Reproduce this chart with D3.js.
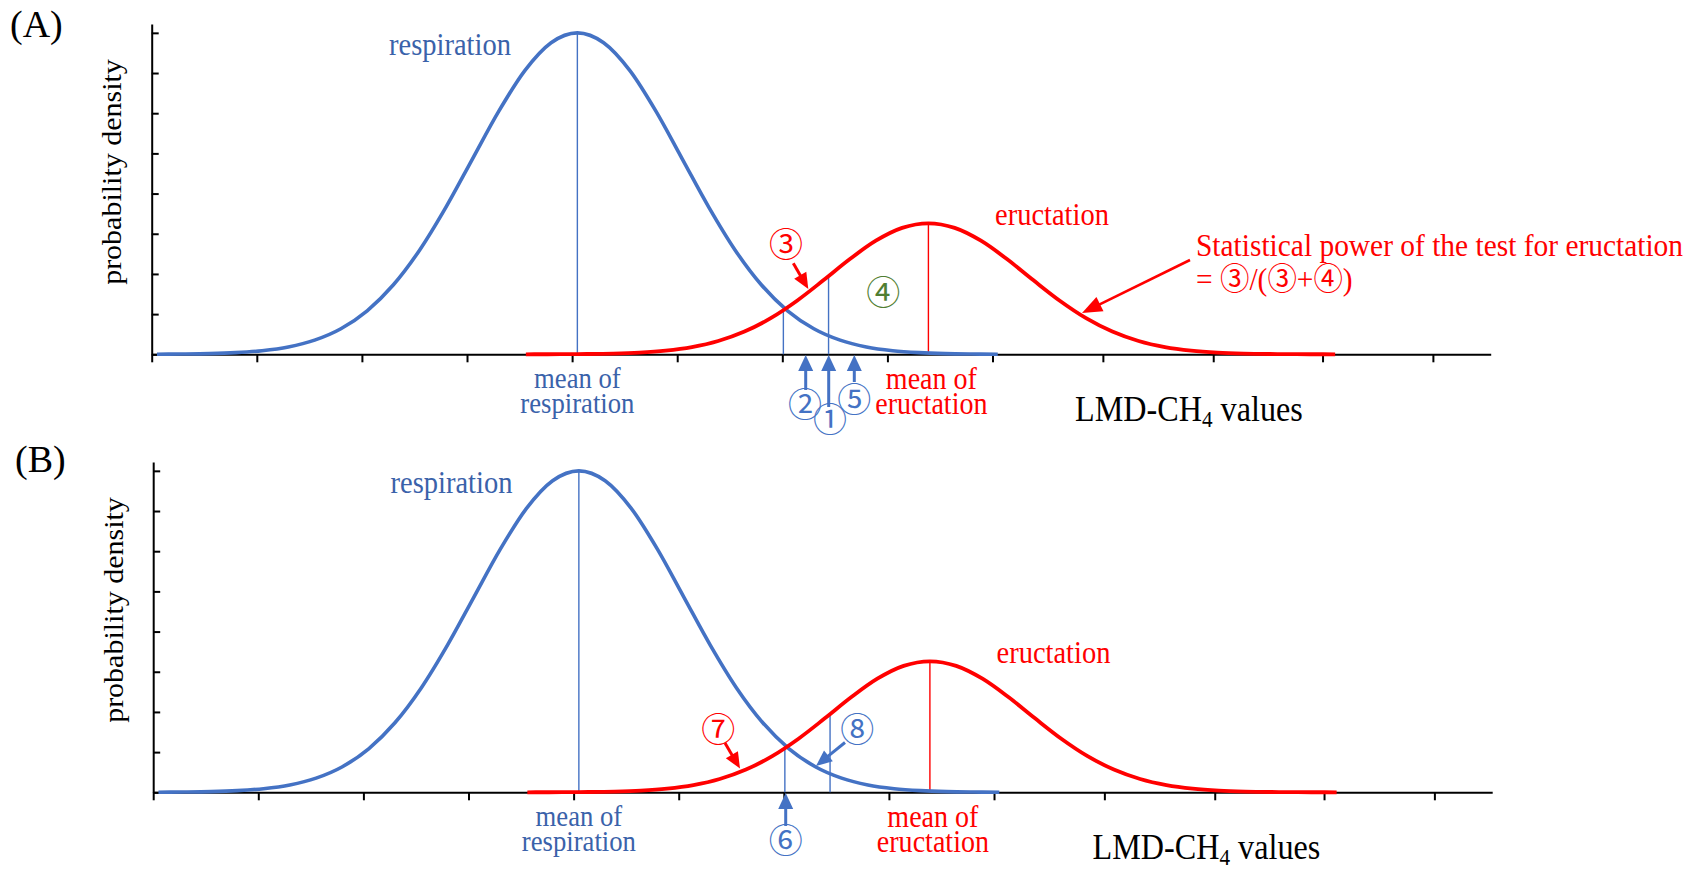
<!DOCTYPE html>
<html><head><meta charset="utf-8">
<script src="https://cdn.jsdelivr.net/npm/d3@7"></script>
<style>html,body{margin:0;padding:0;background:#fff;} svg{display:block;}</style>
</head><body><svg id="c" width="1685" height="872"></svg>
<script>
// ---- data ----
const xTicks = [0, 1, 2, 3, 4, 5, 6, 7, 8, 9.05, 10.1, 11.14, 12.19];
const yTicks = [0, 1, 2, 3, 4, 5, 6, 7, 8];
const respX = [0.05,0.30,0.55,0.80,1.05,1.30,1.55,1.80,2.05,2.30,2.55,2.80,3.05,3.30,3.55,3.80,4.05,
               4.30,4.55,4.80,5.05,5.30,5.55,5.80,6.05,6.30,6.55,6.80,7.05,7.30,7.55,7.80,8.05];
const respY = [0.003,0.007,0.017,0.041,0.089,0.182,0.352,0.636,1.083,1.730,2.597,3.663,4.852,6.039,7.060,7.754,8.0,
               7.754,7.060,6.039,4.852,3.663,2.597,1.730,1.083,0.636,0.352,0.182,0.089,0.041,0.017,0.007,0.003];
const eructX = [3.56,3.64,3.89,4.14,4.39,4.64,4.89,5.14,5.39,5.64,5.89,6.14,6.39,6.64,6.89,7.14,7.39,
                7.64,7.89,8.14,8.39,8.64,8.89,9.14,9.39,9.64,9.89,10.14,10.39,10.64,10.89,11.14,11.26];
const eructY = [0.0005,0.0010,0.0030,0.0078,0.0189,0.0431,0.0914,0.180,0.331,0.566,0.900,1.334,1.840,2.363,2.826,3.146,3.26,
                3.146,2.826,2.363,1.840,1.334,0.900,0.566,0.331,0.180,0.0914,0.0431,0.0189,0.0078,0.0030,0.0010,0.0005];
const respMean = [4.05, 8.0];       // x, peak
const eructMean = [7.39, 3.26];     // x, peak
const crossLine = [6.01, 1.14];     // x, height where curves cross
const cutLine = [6.44, 1.91];       // x, height on eructation curve

const svg = d3.select("#c");
const BLUE = "#4472C4", RED = "#FF0000", TBLUE = "#3A62AA", GREEN = "#507E32";
const SERIF = "'Liberation Serif','Times New Roman',serif";
const CJK = "'Noto Sans CJK JP','Noto Sans CJK SC',sans-serif";
const SX = 0.92;

const x = d3.scaleLinear().domain([0, 12.74]).range([151.7, 1490.7]);
const y = d3.scaleLinear().domain([0, 8.22]).range([354.3, 24]);

function text(g, px, py, lines, o) {
  const t = g.append("text")
    .attr("transform", `translate(${px},${py}) scale(${o.sx ?? SX},1)${o.rot ? " rotate(" + o.rot + ")" : ""}`)
    .attr("font-family", o.ff || SERIF)
    .attr("font-size", o.fs || 30)
    .attr("fill", o.fill || "#000")
    .attr("text-anchor", o.anchor || "start");
  if (Array.isArray(lines)) {
    lines.forEach((s, i) => t.append("tspan").attr("x", 0).attr("dy", i ? o.lh : 0).text(s));
  } else t.text(lines);
  return t;
}
function circ(g, cx, cy, ch, color) {
  g.append("text").attr("x", cx).attr("y", cy + 11.5)
    .attr("font-family", CJK).attr("font-size", 34).attr("fill", color)
    .attr("text-anchor", "middle").text(ch);
}
function arrow(g, x1, y1, x2, y2, color, sw, hl, hw) {
  const dx = x2 - x1, dy = y2 - y1, L = Math.hypot(dx, dy);
  const ux = dx / L, uy = dy / L;
  const bx = x2 - ux * hl, by = y2 - uy * hl;
  g.append("line").attr("x1", x1).attr("y1", y1).attr("x2", bx + ux * 2).attr("y2", by + uy * 2)
    .attr("stroke", color).attr("stroke-width", sw);
  g.append("path").attr("d", `M${x2},${y2}L${bx - uy * hw / 2},${by + ux * hw / 2}L${bx + uy * hw / 2},${by - ux * hw / 2}Z`)
    .attr("fill", color);
}

function panel(dx, dy, lmd) {
  const g = svg.append("g").attr("transform", `translate(${dx},${dy})`);
  const xa = g.append("g").attr("transform", `translate(0,${y(0)})`)
    .call(d3.axisBottom(x).tickValues(xTicks).tickSize(8).tickSizeOuter(0).tickFormat(""));
  const ya = g.append("g").attr("transform", `translate(${x(0)},0)`)
    .call(d3.axisRight(y).tickValues(yTicks).tickSize(7).tickSizeOuter(0).tickFormat(""));
  [xa, ya].forEach(a => { a.selectAll("path,line").attr("stroke", "#000").attr("stroke-width", 2); });

  const vl = (xv, top, color) => g.append("line").attr("x1", x(xv)).attr("x2", x(xv))
    .attr("y1", y(0)).attr("y2", y(top)).attr("stroke", color).attr("stroke-width", 1.4);
  vl(respMean[0], respMean[1], BLUE);
  vl(crossLine[0], crossLine[1], BLUE);
  vl(cutLine[0], cutLine[1], BLUE);
  vl(eructMean[0], eructMean[1], RED);

  const line = d3.line().x(d => x(d[0])).y(d => y(d[1])).curve(d3.curveMonotoneX);
  g.append("path").attr("d", line(respX.map((v, i) => [v, respY[i]])))
    .attr("fill", "none").attr("stroke", BLUE).attr("stroke-width", 3.6);
  g.append("path").attr("d", line(eructX.map((v, i) => [v, eructY[i]])))
    .attr("fill", "none").attr("stroke", RED).attr("stroke-width", 3.8);

  text(g, 121, 172, "probability density", { fs: 30, rot: -90, anchor: "middle" });
  text(g, 389, 55, "respiration", { fill: TBLUE, fs: 31 });
  text(g, 995, 225, "eructation", { fill: RED, fs: 31 });
  text(g, x(respMean[0]), 388, ["mean of", "respiration"], { fill: TBLUE, fs: 29, anchor: "middle", lh: 25 });
  text(g, x(eructMean[0]) + 3, 388.5, ["mean of", "eructation"], { fill: RED, fs: 30.5, anchor: "middle", lh: 25.5 });
  const lt = text(g, lmd[0], lmd[1], "LMD-CH", { fs: 35 });
  lt.append("tspan").attr("font-size", 23).attr("dy", 6).text("4");
  lt.append("tspan").attr("dy", -6).text(" values");
  return g;
}

panel(0, 0, [1075, 421]);
panel(1.5, 438, [1091, 421]);

text(svg, 10, 37, "(A)", { fs: 38, sx: 1 });
text(svg, 15, 472, "(B)", { fs: 38, sx: 1 });

// ---- Panel A annotations ----
circ(svg, 786, 245, "③", RED);
arrow(svg, 793.3, 263.3, 808.3, 289, RED, 3, 16, 14);
circ(svg, 883.3, 293.3, "④", GREEN);
arrow(svg, 805.7, 390, 805.7, 355, BLUE, 3, 16, 15);
arrow(svg, 828.7, 407, 828.7, 355, BLUE, 3, 16, 15);
arrow(svg, 854.3, 382, 854.3, 355, BLUE, 3, 16, 15);
circ(svg, 805, 405, "②", BLUE);
circ(svg, 830, 420, "①", BLUE);
circ(svg, 854.3, 400, "⑤", BLUE);
const st = text(svg, 1196, 256, ["Statistical power of the test for eructation"], { fill: RED, fs: 32 });
const eq = st.append("tspan").attr("x", 0).attr("dy", 34).text("= ");
st.append("tspan").attr("font-family", CJK).text("③");
st.append("tspan").text("/(");
st.append("tspan").attr("font-family", CJK).text("③");
st.append("tspan").text("+");
st.append("tspan").attr("font-family", CJK).text("④");
st.append("tspan").text(")");
arrow(svg, 1190, 260, 1082, 313, RED, 2.6, 20, 16);

// ---- Panel B annotations ----
circ(svg, 718.3, 730, "⑦", RED);
arrow(svg, 725, 743, 740, 768.5, RED, 3, 16, 14);
circ(svg, 857.3, 730, "⑧", BLUE);
arrow(svg, 845, 742.5, 816, 766, BLUE, 3, 16, 14);
arrow(svg, 785.7, 826, 785.7, 793, BLUE, 3, 16, 15);
circ(svg, 785.7, 841.7, "⑥", BLUE);
</script></body></html>
